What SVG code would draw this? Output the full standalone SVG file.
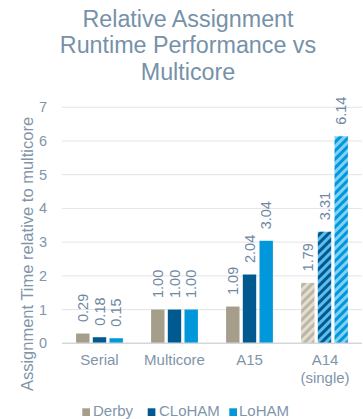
<svg xmlns="http://www.w3.org/2000/svg" width="363" height="419" viewBox="0 0 363 419">
<style>
.t{font-family:"Liberation Sans",Arial,sans-serif;fill:#8195AA}
.title{font-size:23.3px;fill:#7691A9;text-anchor:middle}
.tick{font-size:14.5px;text-anchor:end}
.cat{font-size:15px;text-anchor:middle}
.val{font-size:14.5px;fill:#6F87A1}
.leg{font-size:15px}
.grid{stroke:#E1E4E8;stroke-width:1}
.d{fill:#A59E8A}.c{fill:#005A8F}.l{fill:#0098DA}
</style>
<defs>
<pattern id="hd" width="6" height="6" patternUnits="userSpaceOnUse" patternTransform="rotate(45)"><rect width="6" height="6" fill="#E2DED3"/><rect width="3" height="6" fill="#BDB6A5"/></pattern>
<pattern id="hc" width="6" height="6" patternUnits="userSpaceOnUse" patternTransform="rotate(45)"><rect width="6" height="6" fill="#5DBDEB"/><rect width="3" height="6" fill="#00598F"/></pattern>
<pattern id="hl" width="6" height="6" patternUnits="userSpaceOnUse" patternTransform="rotate(45)"><rect width="6" height="6" fill="#82D1F4"/><rect width="3" height="6" fill="#0098DA"/></pattern>
</defs>
<rect width="363" height="419" fill="#FFFFFF"/>
<g id="title" class="t">
<text class="t title" x="188" y="26.7">Relative Assignment</text>
<text class="t title" x="188" y="53.3">Runtime Performance vs</text>
<text class="t title" x="188" y="80">Multicore</text>
</g>
<g id="grid">
<line class="grid" x1="62" x2="362" y1="107.26" y2="107.26"/>
<line class="grid" x1="62" x2="362" y1="140.98" y2="140.98"/>
<line class="grid" x1="62" x2="362" y1="174.7" y2="174.7"/>
<line class="grid" x1="62" x2="362" y1="208.42" y2="208.42"/>
<line class="grid" x1="62" x2="362" y1="242.14" y2="242.14"/>
<line class="grid" x1="62" x2="362" y1="275.86" y2="275.86"/>
<line class="grid" x1="62" x2="362" y1="309.58" y2="309.58"/>
</g>
<g id="yaxis">
<text class="t tick" x="47" y="112.3">7</text>
<text class="t tick" x="47" y="146">6</text>
<text class="t tick" x="47" y="179.7">5</text>
<text class="t tick" x="47" y="213.4">4</text>
<text class="t tick" x="47" y="247.1">3</text>
<text class="t tick" x="47" y="280.9">2</text>
<text class="t tick" x="47" y="314.6">1</text>
<text class="t tick" x="47" y="348.3">0</text>
<text class="t" style="font-size:16.5px;text-anchor:middle" transform="translate(32.5,254) rotate(-90)">Assignment Time relative to multicore</text>
</g>
<g id="bars">
<rect class="d" x="76.1" y="333.52" width="13.4" height="9.78"/>
<rect class="c" x="92.8" y="337.23" width="13.4" height="6.07"/>
<rect class="l" x="109.5" y="338.24" width="13.4" height="5.06"/>
<rect class="d" x="151.1" y="309.58" width="13.4" height="33.72"/>
<rect class="c" x="167.8" y="309.58" width="13.4" height="33.72"/>
<rect class="l" x="184.5" y="309.58" width="13.4" height="33.72"/>
<rect class="d" x="226.1" y="306.55" width="13.4" height="36.75"/>
<rect class="c" x="242.8" y="274.51" width="13.4" height="68.79"/>
<rect class="l" x="259.5" y="240.79" width="13.4" height="102.51"/>
<rect fill="url(#hd)" x="301.1" y="282.94" width="13.4" height="60.36"/>
<rect fill="url(#hc)" x="317.8" y="231.69" width="13.4" height="111.61"/>
<rect fill="url(#hl)" x="334.5" y="136.26" width="13.4" height="207.04"/>
</g>
<line id="baseline" x1="62" x2="362" y1="343.3" y2="343.3" stroke="#D3D7DC" stroke-width="1.5"/>
<g id="values">
<text class="t val" transform="translate(87.8,322) rotate(-90)">0.29</text>
<text class="t val" transform="translate(104.5,325.7) rotate(-90)">0.18</text>
<text class="t val" transform="translate(121.2,326.7) rotate(-90)">0.15</text>
<text class="t val" transform="translate(162.8,298) rotate(-90)">1.00</text>
<text class="t val" transform="translate(179.5,298) rotate(-90)">1.00</text>
<text class="t val" transform="translate(196.2,298) rotate(-90)">1.00</text>
<text class="t val" transform="translate(237.8,295) rotate(-90)">1.09</text>
<text class="t val" transform="translate(254.5,263) rotate(-90)">2.04</text>
<text class="t val" transform="translate(271.2,229.3) rotate(-90)">3.04</text>
<text class="t val" transform="translate(312.8,271.4) rotate(-90)">1.79</text>
<text class="t val" transform="translate(329.5,220.2) rotate(-90)">3.31</text>
<text class="t val" transform="translate(346.2,124.8) rotate(-90)">6.14</text>
</g>
<g id="xaxis">
<text class="t cat" x="99.5" y="365">Serial</text>
<text class="t cat" x="174.5" y="365">Multicore</text>
<text class="t cat" x="249.5" y="365">A15</text>
<text class="t cat" x="325" y="365">A14</text>
<text class="t cat" x="325" y="383">(single)</text>
</g>
<g id="legend">
<rect class="d" x="82.3" y="408.3" width="7.7" height="7.7"/>
<text class="t leg" x="93" y="416">Derby</text>
<rect class="c" x="147.7" y="408.3" width="7.7" height="7.7"/>
<text class="t leg" x="159" y="416">CLoHAM</text>
<rect class="l" x="229.3" y="408.3" width="7.7" height="7.7"/>
<text class="t leg" x="239" y="416">LoHAM</text>
</g>
</svg>
